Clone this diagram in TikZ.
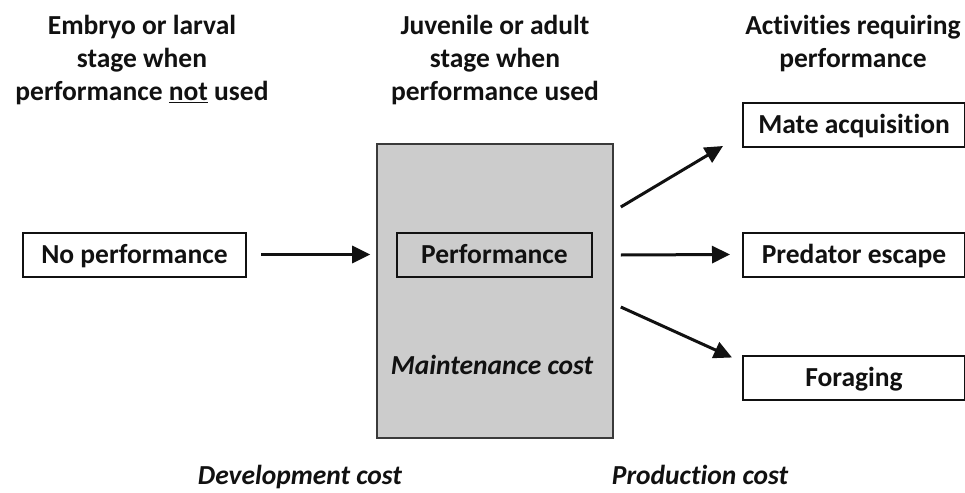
\documentclass[tikz,border=0pt]{standalone}
\usepackage{fontspec}
\setmainfont[Ligatures=NoCommon]{Carlito}
\usetikzlibrary{arrows.meta,calc}
\definecolor{fillgray}{HTML}{CCCCCC}
\definecolor{edgegray}{HTML}{3A3A3A}
\definecolor{ink}{HTML}{111111}
\tikzset{
  box/.style={draw=ink, line width=2pt, fill=white, inner sep=0pt, minimum height=44pt, text height=20pt, text depth=3pt, font=\fontsize{27.5}{32}\selectfont\bfseries, text=ink},
  head/.style={align=center, font=\fontsize{27.5}{33}\selectfont\bfseries, text=ink, inner sep=0pt},
  costlbl/.style={font=\fontsize{27.5}{32}\selectfont\bfseries\itshape, text=ink, inner sep=0pt},
  arr/.style={line width=3pt, draw=ink, -{Triangle[length=18pt,width=17pt]}},
}
\begin{document}
\begin{tikzpicture}[x=1pt,y=-1pt]
\useasboundingbox (0,0) rectangle (965,492);
% headings
\node[head] (h1) at (142,60) {Embryo or larval\\stage when\\performance \underline{not} used};
\node[head] (h2) at (495,60) {Juvenile or adult\\stage when\\performance used};
\node[head] (h3) at (853,43.5) {Activities requiring\\performance};
% boxes
\node[box, minimum width=223pt] (noperf) at (134.5,254.5) {No performance};
\node[draw=edgegray, line width=1.6pt, fill=fillgray, minimum width=236pt, minimum height=294pt, inner sep=0pt] (gray) at (495,291) {};
\node[box, fill=fillgray, minimum width=195pt] (perf) at (494.5,255) {Performance};
\node[costlbl] (maint) at (492,365) {Maintenance cost};
\node[box, minimum width=222pt, anchor=west] (mate) at (742,125) {Mate acquisition};
\node[box, minimum width=222pt, anchor=west] (pred) at (742,254.5) {Predator escape};
\node[box, minimum width=222pt, anchor=west] (forag) at (742,377.5) {Foraging};
% cost labels
\node[costlbl, anchor=base] (dev) at (300,484) {Development cost};
\node[costlbl, anchor=base] (prod) at (700,484) {Production cost};
% arrows
\draw[arr] ($(noperf.east)+(14,0)$) -- ($(noperf.east -| gray.west)+(-6,0)$);
\draw[arr] ($(gray.east)+(7,-84)$) -- ($(mate.south west)+(-19,-2)$);
\draw[arr] ($(perf.east -| gray.east)+(7,0)$) -- ($(pred.west)+(-12,0)$);
\draw[arr] ($(gray.east)+(7,16)$) -- ($(forag.north west)+(-10,3)$);
\end{tikzpicture}
\end{document}
